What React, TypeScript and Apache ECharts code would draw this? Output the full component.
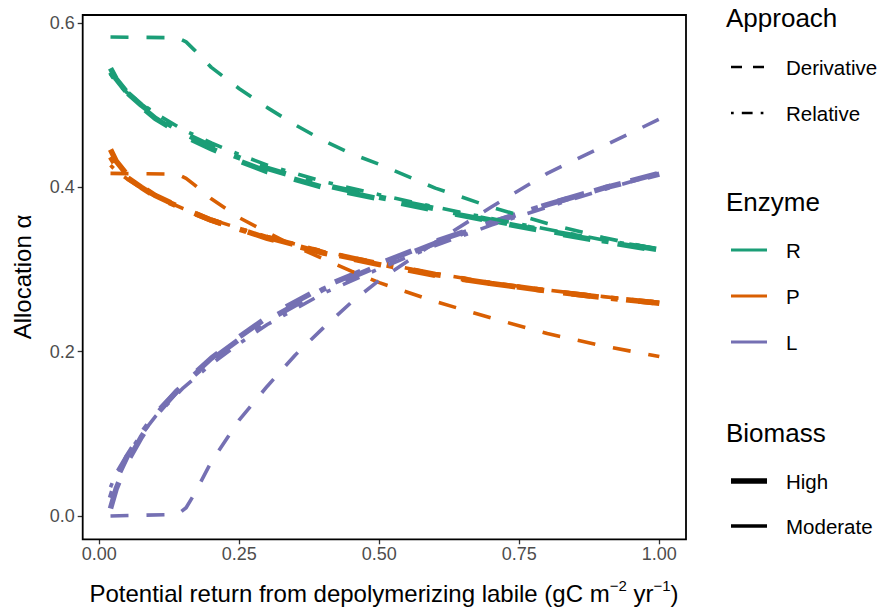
import React, { useEffect, useRef } from "react";
import * as echarts from "echarts";

// ---------- data ----------
const xTicks = [0, 0.25, 0.5, 0.75, 1.0];
const yTicks = [0, 0.2, 0.4, 0.6];

// Derivative approach, moderate biomass
const xDerivMod = [0.02, 0.14, 0.155, 0.17, 0.2, 0.25, 0.3, 0.35, 0.4, 0.45, 0.5, 0.6, 0.7, 0.8, 0.9, 1.0];
const rDerivMod = [0.583, 0.582, 0.577, 0.567, 0.546, 0.52, 0.497, 0.476, 0.457, 0.441, 0.428, 0.399, 0.376, 0.356, 0.339, 0.324];
const pDerivMod = [0.417, 0.416, 0.411, 0.403, 0.386, 0.363, 0.345, 0.328, 0.313, 0.298, 0.284, 0.261, 0.241, 0.222, 0.207, 0.194];
const lDerivMod = [0.0, 0.002, 0.01, 0.027, 0.066, 0.117, 0.158, 0.196, 0.229, 0.26, 0.287, 0.333, 0.376, 0.417, 0.45, 0.483];

// Cluster lines (derivative high, relative high, relative moderate)
const xCluster = [0.02, 0.03, 0.05, 0.075, 0.1, 0.15, 0.2, 0.25, 0.3, 0.4, 0.5, 0.6, 0.7, 0.8, 0.9, 1.0];
const rDerivHigh = [0.545, 0.532, 0.515, 0.498, 0.484, 0.463, 0.447, 0.432, 0.419, 0.4, 0.386, 0.372, 0.359, 0.346, 0.334, 0.323];
const pDerivHigh = [0.446, 0.432, 0.415, 0.401, 0.39, 0.374, 0.36, 0.349, 0.338, 0.32, 0.306, 0.293, 0.283, 0.274, 0.266, 0.259];
const lDerivHigh = [0.009, 0.033, 0.066, 0.096, 0.122, 0.161, 0.192, 0.218, 0.242, 0.279, 0.307, 0.334, 0.357, 0.379, 0.399, 0.416];

const rRelHigh = [0.54, 0.53, 0.515, 0.5, 0.487, 0.466, 0.45, 0.436, 0.423, 0.403, 0.388, 0.374, 0.36, 0.347, 0.335, 0.324];
const pRelHigh = [0.437, 0.426, 0.412, 0.4, 0.389, 0.374, 0.36, 0.349, 0.339, 0.321, 0.307, 0.294, 0.283, 0.274, 0.266, 0.259];
const lRelHigh = [0.022, 0.044, 0.073, 0.1, 0.124, 0.16, 0.19, 0.215, 0.238, 0.276, 0.305, 0.332, 0.357, 0.379, 0.399, 0.417];

const rRelMod = [0.538, 0.528, 0.515, 0.502, 0.49, 0.47, 0.454, 0.44, 0.427, 0.407, 0.391, 0.376, 0.362, 0.349, 0.336, 0.325];
const pRelMod = [0.427, 0.42, 0.41, 0.399, 0.389, 0.374, 0.361, 0.35, 0.34, 0.322, 0.308, 0.295, 0.284, 0.275, 0.267, 0.26];
const lRelMod = [0.035, 0.052, 0.075, 0.099, 0.121, 0.156, 0.185, 0.21, 0.233, 0.271, 0.301, 0.329, 0.354, 0.376, 0.397, 0.417];

const approachLabels = ["Derivative", "Relative"];
const enzymeLabels = ["R", "P", "L"];
const biomassLabels = ["High", "Moderate"];

const COLORS: Record<string, string> = { R: "#1B9E77", P: "#D95F02", L: "#7570B3" };
const WIDTH: Record<string, number> = { High: 5.5, Moderate: 3.6 };

function dashFor(approach: string, w: number): number[] {
  const u = 1.25 * w;
  return approach === "Derivative" ? [4 * u, 4 * u] : [u, 3 * u, 4 * u, 3 * u];
}

const FONT = "Liberation Sans, Arial, Helvetica, sans-serif";

export default function App() {
  const ref = useRef<HTMLDivElement>(null);
  useEffect(() => {
    if (!ref.current) return;
    const chart = echarts.init(ref.current, null, { renderer: "svg" });

    const mk = (xs: number[], ys: number[], enzyme: string, approach: string, biomass: string) => {
      const w = WIDTH[biomass];
      return {
        type: "line",
        name: `${enzyme}-${approach}-${biomass}`,
        data: xs.map((x, i) => [x, ys[i]]),
        showSymbol: false,
        symbol: "none",
        clip: false,
        silent: true,
        lineStyle: { color: COLORS[enzyme], width: w, type: dashFor(approach, w), cap: "butt", join: "round" },
        z: biomass === "High" ? 2 : 3,
      };
    };

    const series = [
      mk(xCluster, rDerivHigh, "R", "Derivative", "High"),
      mk(xCluster, pDerivHigh, "P", "Derivative", "High"),
      mk(xCluster, lDerivHigh, "L", "Derivative", "High"),
      mk(xCluster, rRelHigh, "R", "Relative", "High"),
      mk(xCluster, pRelHigh, "P", "Relative", "High"),
      mk(xCluster, lRelHigh, "L", "Relative", "High"),
      mk(xDerivMod, rDerivMod, "R", "Derivative", "Moderate"),
      mk(xDerivMod, pDerivMod, "P", "Derivative", "Moderate"),
      mk(xDerivMod, lDerivMod, "L", "Derivative", "Moderate"),
      mk(xCluster, rRelMod, "R", "Relative", "Moderate"),
      mk(xCluster, pRelMod, "P", "Relative", "Moderate"),
      mk(xCluster, lRelMod, "L", "Relative", "Moderate"),
    ];

    // legend graphics
    const keyX1 = 731, keyX2 = 767, titleX = 726, labelX = 786;
    const legendGraphics: any[] = [];
    const title = (text: string, y: number) =>
      legendGraphics.push({
        type: "text", x: titleX, y,
        style: { text, fill: "#000", font: `26px ${FONT}`, textVerticalAlign: "middle", textAlign: "left" },
      });
    const label = (text: string, y: number) =>
      legendGraphics.push({
        type: "text", x: labelX, y,
        style: { text, fill: "#000", font: `20.5px ${FONT}`, textVerticalAlign: "middle", textAlign: "left" },
      });
    const key = (y: number, color: string, w: number, dash: number[] | null) =>
      legendGraphics.push({
        type: "line",
        shape: { x1: keyX1, y1: y, x2: keyX2, y2: y },
        style: { stroke: color, lineWidth: w, lineDash: dash || undefined, lineCap: "butt" },
      });

    title("Approach", 18);
    const apY = [67, 113];
    approachLabels.forEach((a, i) => {
      key(apY[i], "#000", 2.7, a === "Derivative" ? [11, 11] : [2.7, 8.1, 10.8, 8.1]);
      label(a, apY[i]);
    });
    title("Enzyme", 202);
    const enY = [250, 296, 342];
    enzymeLabels.forEach((e, i) => {
      key(enY[i], COLORS[e], 3, null);
      label(e, enY[i]);
    });
    title("Biomass", 433);
    const bmY = [481, 526];
    biomassLabels.forEach((b, i) => {
      key(bmY[i], "#000", WIDTH[b], null);
      label(b, bmY[i]);
    });

    chart.setOption({
      animation: false,
      backgroundColor: "#fff",
      grid: { left: 99.3, right: 881 - 659.3, top: 23, bottom: 610 - 516, containLabel: false },
      xAxis: {
        type: "value", min: xTicks[0], max: xTicks[xTicks.length - 1], interval: 0.25, offset: 23.3,
        axisLine: { show: false, onZero: false },
        axisTick: { show: true, length: 5, lineStyle: { color: "#333", width: 1.3 } },
        axisLabel: { formatter: (v: number) => v.toFixed(2), color: "#4D4D4D", fontSize: 18, fontFamily: FONT, margin: 6 },
        splitLine: { show: false },
      },
      yAxis: {
        type: "value", min: yTicks[0], max: yTicks[yTicks.length - 1], interval: 0.2, offset: 16.6,
        axisLine: { show: false, onZero: false },
        axisTick: { show: true, length: 5, lineStyle: { color: "#333", width: 1.3 } },
        axisLabel: { formatter: (v: number) => v.toFixed(1), color: "#4D4D4D", fontSize: 18, fontFamily: FONT, margin: 8 },
        splitLine: { show: false },
      },
      series,
      graphic: [
        {
          type: "rect", z: 10, silent: true,
          shape: { x: 82.7, y: 15, width: 686 - 82.7, height: 539.3 - 15 },
          style: { fill: "none", stroke: "#000", lineWidth: 1.8 },
        },
        {
          type: "text", x: 384, y: 593,
          style: {
            text: "Potential return from depolymerizing labile (gC m{sup|−2} yr{sup|−1})",
            font: `24px ${FONT}`, fill: "#000", textAlign: "center", textVerticalAlign: "middle",
            rich: { sup: { fontSize: 15, fontFamily: FONT, verticalAlign: "top", lineHeight: 30 } },
          },
        },
        {
          type: "text", x: 22, y: 277, rotation: Math.PI / 2,
          style: { text: "Allocation α", font: `24px ${FONT}`, fill: "#000", textAlign: "center", textVerticalAlign: "middle" },
        },
        ...legendGraphics,
      ],
    });
    return () => chart.dispose();
  }, []);
  return <div ref={ref} style={{ position: "fixed", left: 0, top: 0, width: 881, height: 610, background: "#fff" }} />;
}
